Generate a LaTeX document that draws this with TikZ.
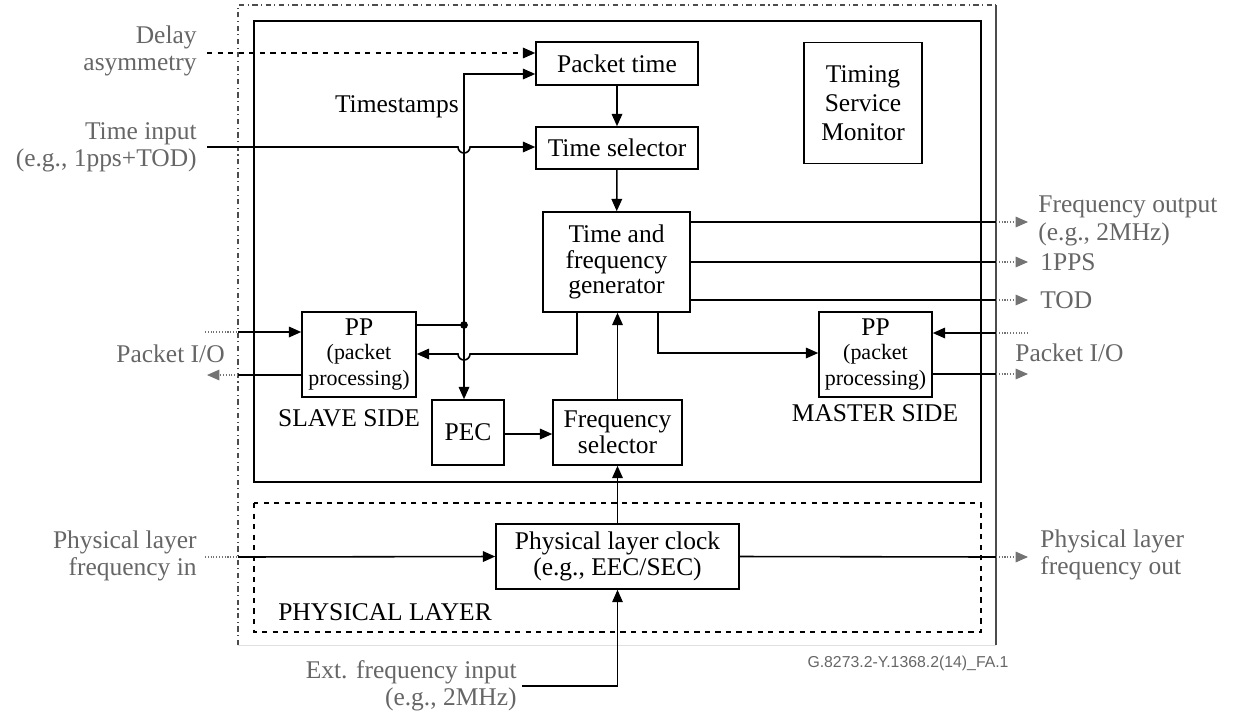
\documentclass[tikz,border=0pt]{standalone}
\usepackage{fontspec}
\setmainfont{Liberation Serif}
\setsansfont{Liberation Sans}
\usetikzlibrary{arrows.meta}

\newcommand{\ppText}{PP\\[-1pt]{\fontsize{12.5}{12.5}\selectfont (packet}\\{\fontsize{12.5}{12.5}\selectfont processing)}}

\begin{document}
\begin{tikzpicture}[x=0.02cm, y=-0.02cm,
   blk/.style={draw, line width=0.9pt, align=center, inner sep=0pt,
      font=\fontsize{14.5}{14.5}\selectfont},
   lbl/.style={text=black!60, inner sep=0pt, font=\fontsize{14.5}{15.5}\selectfont},
   side/.style={inner sep=0pt, font=\fontsize{14.5}{15}\selectfont},
   wire/.style={line width=0.9pt, -{Triangle[length=7pt,width=6pt]}},
   plain/.style={line width=0.9pt},
   ext/.style={black!55, line width=0.6pt, densely dotted},
   extarr/.style={ext, -{Triangle[length=7pt,width=6pt]}}]

\useasboundingbox (0,0) rectangle (1236,714);

% frames
\draw[black!70, line width=0.6pt, dash dot] (238,645) -- (238,5) -- (996,5);
\draw[black!70, line width=0.7pt] (996,5) -- (996,645);
\draw[black!12, line width=0.5pt] (238,645) -- (996,645);
\draw[line width=1pt] (254,21) rectangle (981,482);
\draw[line width=0.9pt, dashed] (254,503) rectangle (981,632);

% blocks
\node[blk, minimum width=3.24cm, minimum height=0.86cm] (pktTime) at (617,63.5) {Packet time};
\node[blk, minimum width=3.24cm, minimum height=0.84cm] (timeSel) at (617,148) {Time selector};
\node[blk, minimum width=2.94cm, minimum height=2.0cm] (tfGen) at (616.5,262) {Time and\\frequency\\generator};
\node[blk, minimum width=2.36cm, minimum height=2.42cm, font=\fontsize{14.5}{16.5}\selectfont] (tsm) at (863,103) {Timing\\Service\\Monitor};
\node[blk, minimum width=2.28cm, minimum height=1.70cm] (ppSlave) at (359,354.5) {\ppText};
\node[blk, minimum width=2.26cm, minimum height=1.70cm] (ppMaster) at (875.5,354.5) {\ppText};
\node[blk, minimum width=1.44cm, minimum height=1.30cm] (pec) at (468,432.5) {PEC};
\node[blk, minimum width=2.58cm, minimum height=1.30cm] (freqSel) at (617.5,432.5) {Frequency\\selector};
\node[blk, minimum width=4.86cm, minimum height=1.30cm] (plc) at (617.5,556.5) {Physical layer clock\\(e.g., EEC/SEC)};

% labels
\node[side] (slaveLbl) at (349,418) {SLAVE SIDE};
\node[side] (masterLbl) at (875,413) {MASTER SIDE};
\node[side] (phyLbl) at (385,612) {PHYSICAL LAYER};
\node[side, anchor=east] (tsLbl) at (459,107) {Timestamps};
\node[lbl, anchor=east, align=right] (dlyLbl) at (197,51) {Delay\\asymmetry};
\node[lbl, anchor=east, align=right] (timeInLbl) at (197,147) {Time input\\(e.g., 1pps+TOD)};
\node[lbl, anchor=east] (pioSlaveLbl) at (225,354) {Packet I/O};
\node[lbl, anchor=east, align=right] (phyInLbl) at (197,556) {Physical layer\\frequency in};
\node[lbl, anchor=west, align=left] (freqOutLbl) at (1038,221) {Frequency output\\(e.g., 2MHz)};
\node[lbl, anchor=west] (ppsLbl) at (1040,262) {1PPS};
\node[lbl, anchor=west] (todLbl) at (1040,300) {TOD};
\node[lbl, anchor=west] (pioMasterLbl) at (1015,353) {Packet I/O};
\node[lbl, anchor=west, align=left] (phyOutLbl) at (1040,555) {Physical layer\\frequency out};
\node[lbl, anchor=east, align=right, font=\fontsize{14.5}{15.5}\selectfont] (extLbl) at (517,686) {Ext. frequency input\\(e.g., 2MHz)};
\node[text=black!60, font=\sffamily\fontsize{9}{9}\selectfont] (figId) at (908,663) {G.8273.2-Y.1368.2(14)\_FA.1};

% coordinates
\coordinate (jct) at (464,325);
\coordinate (dlyIn) at (207,53);
\coordinate (timeIn) at (207,147);
\coordinate (pioSlaveIn) at (205,332);
\coordinate (pioSlaveOut) at (207,375);
\coordinate (phyIn) at (205,557);
\coordinate (freqOut) at (1028,222);
\coordinate (ppsOut) at (1028,262);
\coordinate (todOut) at (1028,300);
\coordinate (pioMasterIn) at (1028,333);
\coordinate (pioMasterOut) at (1028,374);
\coordinate (phyOut) at (1028,557);
\coordinate (extIn) at (522,686);

% time path
\draw[wire, dashed] (dlyIn) -- (pktTime.west |- dlyIn);
\draw[wire] (timeIn) -- (458,147) arc[start angle=180, end angle=360, radius=0.12cm] -- (timeSel.west |- timeIn);
\draw[wire] (pktTime) -- (timeSel);
\draw[wire] (timeSel) -- (tfGen);

% timestamps
\draw[plain] (ppSlave.east |- jct) -- (jct);
\draw[wire] (jct) -- (jct |- 0,74) -- (pktTime.west |- 0,74);
\draw[wire] (jct) -- (jct |- pec.north);
\fill (jct) circle[radius=2.2pt];

% generator outputs
\draw[plain] (tfGen.east |- freqOut) -- (996,222);
\draw[extarr] (996,222) -- (freqOut);
\draw[plain] (tfGen.east |- ppsOut) -- (996,262);
\draw[extarr] (996,262) -- (ppsOut);
\draw[plain] (tfGen.east |- todOut) -- (996,300);
\draw[extarr] (996,300) -- (todOut);
\draw[wire] (tfGen.south -| 577,0) -- (577,354) -- (470,354) arc[start angle=0, end angle=-180, radius=0.12cm] -- (ppSlave.east |- 0,354);
\draw[wire] (tfGen.south -| 658,0) -- (658,353) -- (ppMaster.west |- 0,353);

% packet I/O
\draw[ext] (pioSlaveIn) -- (238,332);
\draw[wire] (238,332) -- (ppSlave.west |- pioSlaveIn);
\draw[plain, line width=0.6pt] (ppSlave.west |- pioSlaveOut) -- (238,375);
\draw[extarr] (238,375) -- (pioSlaveOut);
\draw[ext] (pioMasterIn) -- (996,333);
\draw[wire] (996,333) -- (ppMaster.east |- pioMasterIn);
\draw[plain, line width=0.6pt] (ppMaster.east |- pioMasterOut) -- (996,374);
\draw[extarr] (996,374) -- (pioMasterOut);

% frequency path
\draw[wire] (pec.east |- 0,434) -- (freqSel.west |- 0,434);
\draw[wire] (freqSel.north) -- (freqSel.north |- tfGen.south);
\draw[wire] (plc.north) -- (freqSel.south);
\draw[ext] (phyIn) -- (238,557);
\draw[wire] (238,557) -- (plc.west);
\draw[plain] (plc.east) -- (996,557);
\draw[extarr] (996,557) -- (phyOut);
\draw[wire, line width=0.6pt] (extIn) -- (extIn -| plc.south) -- (plc.south);

\end{tikzpicture}
\end{document}
